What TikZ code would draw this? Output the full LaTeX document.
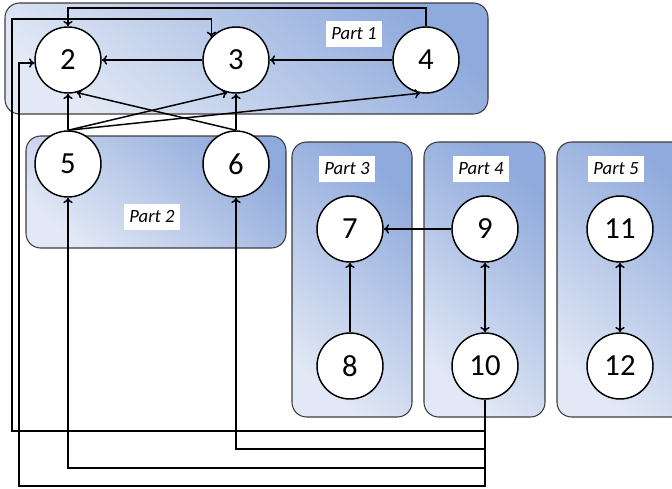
\documentclass[tikz,border=0pt]{standalone}
\usepackage{fontspec}
\setmainfont{Carlito}
\usetikzlibrary{arrows.meta}
\definecolor{partdark}{RGB}{143,170,220}
\definecolor{partlight}{RGB}{226,232,245}
\definecolor{partedge}{RGB}{60,60,60}
\begin{document}
\begin{tikzpicture}[x=0.75pt,y=-0.75pt,
  part/.style={draw=partedge, line width=0.8pt, rounded corners=11pt,
    top color=partdark, bottom color=partlight, shading angle=-40},
  partlabel/.style={fill=white, inner xsep=4pt, inner ysep=0pt, minimum height=19pt,
    font=\itshape\fontsize{14}{16}\selectfont},
  vertex/.style={circle, draw=black, fill=white, line width=1.1pt,
    minimum size=49.5pt, inner sep=0pt, font=\fontsize{23}{26}\selectfont},
  conn/.style={line width=1.1pt, -{To[length=4pt,width=7pt]}},
  biconn/.style={line width=1.1pt, {To[length=4pt,width=7pt]}-{To[length=4pt,width=7pt]}}]
\useasboundingbox (0,0) rectangle (672,489);
% part boxes
\path[part] (5,3) rectangle (488,114);
\path[part] (26,136) rectangle (286,248);
\path[part] (292,142) rectangle (412,417);
\path[part] (424,142) rectangle (545,417);
\path[part] (557,142) rectangle (700,417);
% labels
\node[partlabel] (l1) at (354,34) {Part 1};
\node[partlabel] (l2) at (152,217) {Part 2};
\node[partlabel] (l3) at (347,169) {Part 3};
\node[partlabel] (l4) at (481,169) {Part 4};
\node[partlabel] (l5) at (616,169) {Part 5};
% nodes
\node[vertex] (n2) at (68,60) {2};
\node[vertex] (n3) at (236,60) {3};
\node[vertex] (n4) at (426,60) {4};
\node[vertex] (n5) at (68,164) {5};
\node[vertex] (n6) at (236,164) {6};
\node[vertex] (n7) at (350,229) {7};
\node[vertex] (n8) at (350,366) {8};
\node[vertex] (n9) at (485,229) {9};
\node[vertex] (n10) at (485,366) {10};
\node[vertex] (n11) at (620,229) {11};
\node[vertex] (n12) at (620,366) {12};
% bus coordinates
\coordinate (t1) at (68,8);
\coordinate (t2) at (12,19);
\coordinate (b1) at (12,431);
\coordinate (b2) at (0,449);
\coordinate (b3) at (0,468);
\coordinate (b4) at (19,486);
% connectors
\draw[conn] (n4) -- (n3);
\draw[conn] (n3) -- (n2);
\draw[conn] (n4.north) |- (t1) -- (n2.north);
\draw[conn] (n5.north) -- (n2.south);
\draw[conn] (n6.north) -- (n3.south);
\draw[conn] (n6.north) -- (n2.-75);
\draw[conn] (n5.north) -- (n3.-105);
\draw[conn] (n5.north) -- (n4.-100);
\draw[conn] (n9) -- (n7);
\draw[conn] (n8) -- (n7);
\draw[biconn] (n9) -- (n10);
\draw[biconn] (n11) -- (n12);
\draw[conn] (n10.south) |- (b1) -- (t2) -| (n3.137);
\draw[conn] (n10.south) |- (n6.south |- b2) -- (n6.south);
\draw[conn] (n10.south) |- (n5.south |- b3) -- (n5.south);
\draw[conn] (n10.south) |- (b4) |- (n2.185);
\end{tikzpicture}
\end{document}
